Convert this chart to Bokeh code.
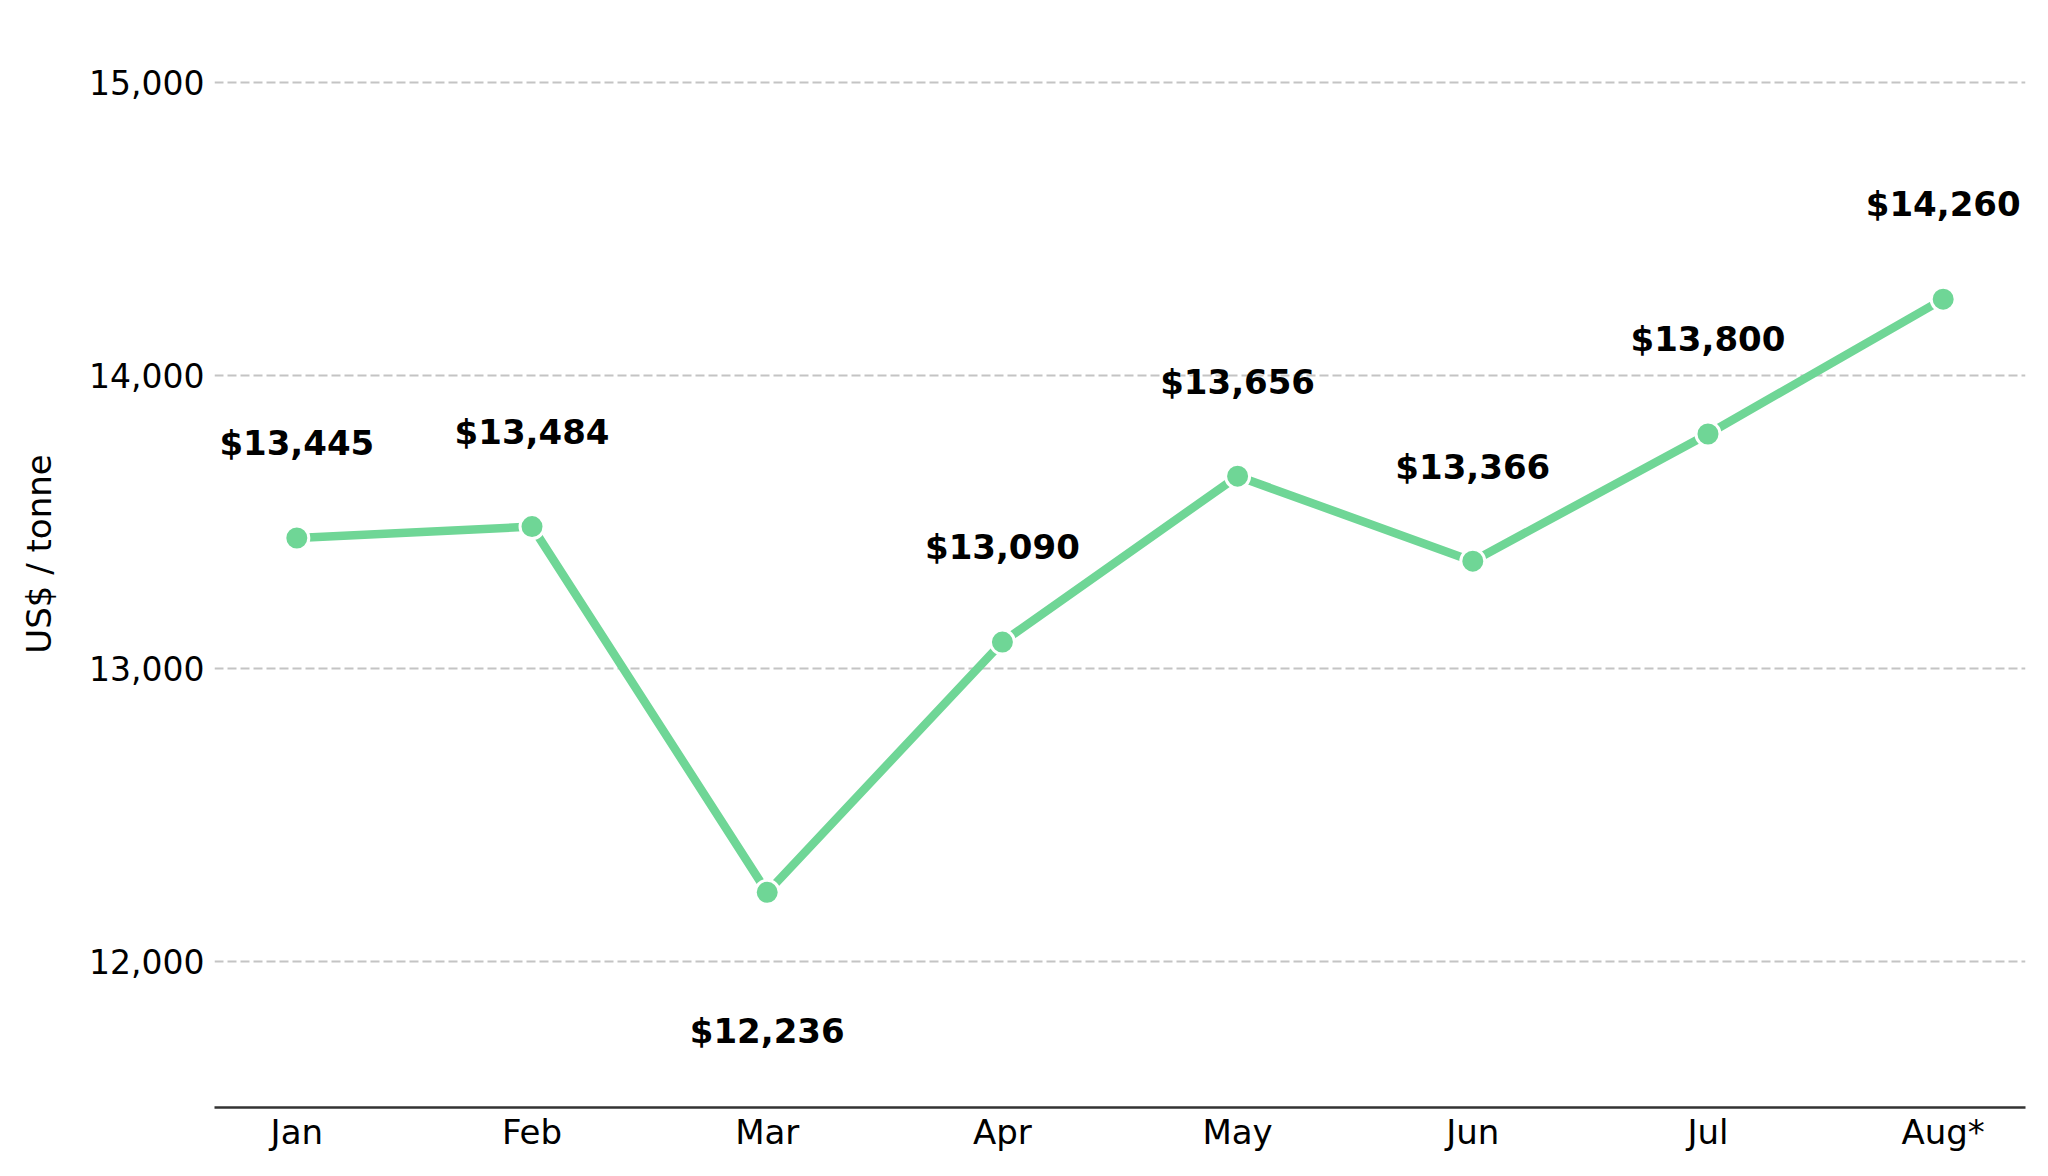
from bokeh.plotting import figure
from bokeh.models import ColumnDataSource, Range1d, FixedTicker, NumeralTickFormatter
from bokeh.core.properties import value
from bokeh.embed import file_html
from bokeh.resources import INLINE

months = ["Jan", "Feb", "Mar", "Apr", "May", "Jun", "Jul", "Aug*"]
prices = [13445, 13484, 12236, 13090, 13656, 13366, 13800, 14260]
y_ticks = [12000, 13000, 14000, 15000]

GREEN = "#6fd696"
FONT = "DejaVu Sans"

xs = list(range(len(months)))
labels = ["${:,}".format(v) for v in prices]
pmin = min(prices)
label_y = [v - 472 if v == pmin else v + 323 for v in prices]

src = ColumnDataSource(dict(x=xs, y=prices, ly=label_y, lab=labels))

p = figure(width=2032, height=1160, output_backend="svg", toolbar_location=None,
           x_range=Range1d(-0.35, len(months) - 1 + 0.35),
           y_range=Range1d(11502, 15279),
           min_border_left=214, min_border_right=7, min_border_top=0, min_border_bottom=53)
p.outline_line_color = None
p.background_fill_color = "white"
p.border_fill_color = "white"

p.line("x", "y", source=src, line_color=GREEN, line_width=8.5)
p.scatter("x", "y", source=src, size=24, fill_color=GREEN, line_color="white", line_width=3)
p.text("x", "ly", text="lab", source=src, text_align="center", text_baseline="middle",
       text_font=value(FONT), text_font_style="bold", text_font_size="34px", text_color="black")

# axes
p.xaxis.ticker = FixedTicker(ticks=xs)
p.xaxis.major_label_overrides = {i: m for i, m in enumerate(months)}
p.xaxis.major_tick_line_color = None
p.xaxis.minor_tick_line_color = None
p.xaxis.axis_line_color = "#333333"
p.xaxis.axis_line_width = 2.5
p.xaxis.major_label_text_font = FONT
p.xaxis.major_label_text_font_size = "34px"
p.xaxis.major_label_text_color = "black"
p.xaxis.major_label_standoff = -2

p.yaxis.ticker = FixedTicker(ticks=y_ticks)
p.yaxis.formatter = NumeralTickFormatter(format="0,0")
p.yaxis.axis_line_color = None
p.yaxis.major_tick_line_color = None
p.yaxis.minor_tick_line_color = None
p.yaxis.major_label_text_font = FONT
p.yaxis.major_label_text_font_size = "33px"
p.yaxis.major_label_text_color = "black"
p.yaxis.major_label_standoff = 4
p.yaxis.axis_label = "US$ / tonne"
p.yaxis.axis_label_text_font = FONT
p.yaxis.axis_label_text_font_size = "34px"
p.yaxis.axis_label_text_font_style = "normal"
p.yaxis.axis_label_text_color = "black"
p.yaxis.axis_label_standoff = 27

p.xgrid.grid_line_color = None
p.ygrid.grid_line_color = "#c4c4c4"
p.ygrid.grid_line_width = 2
p.ygrid.grid_line_dash = "9 4"

open("out.html", "w").write(file_html(p, INLINE))
